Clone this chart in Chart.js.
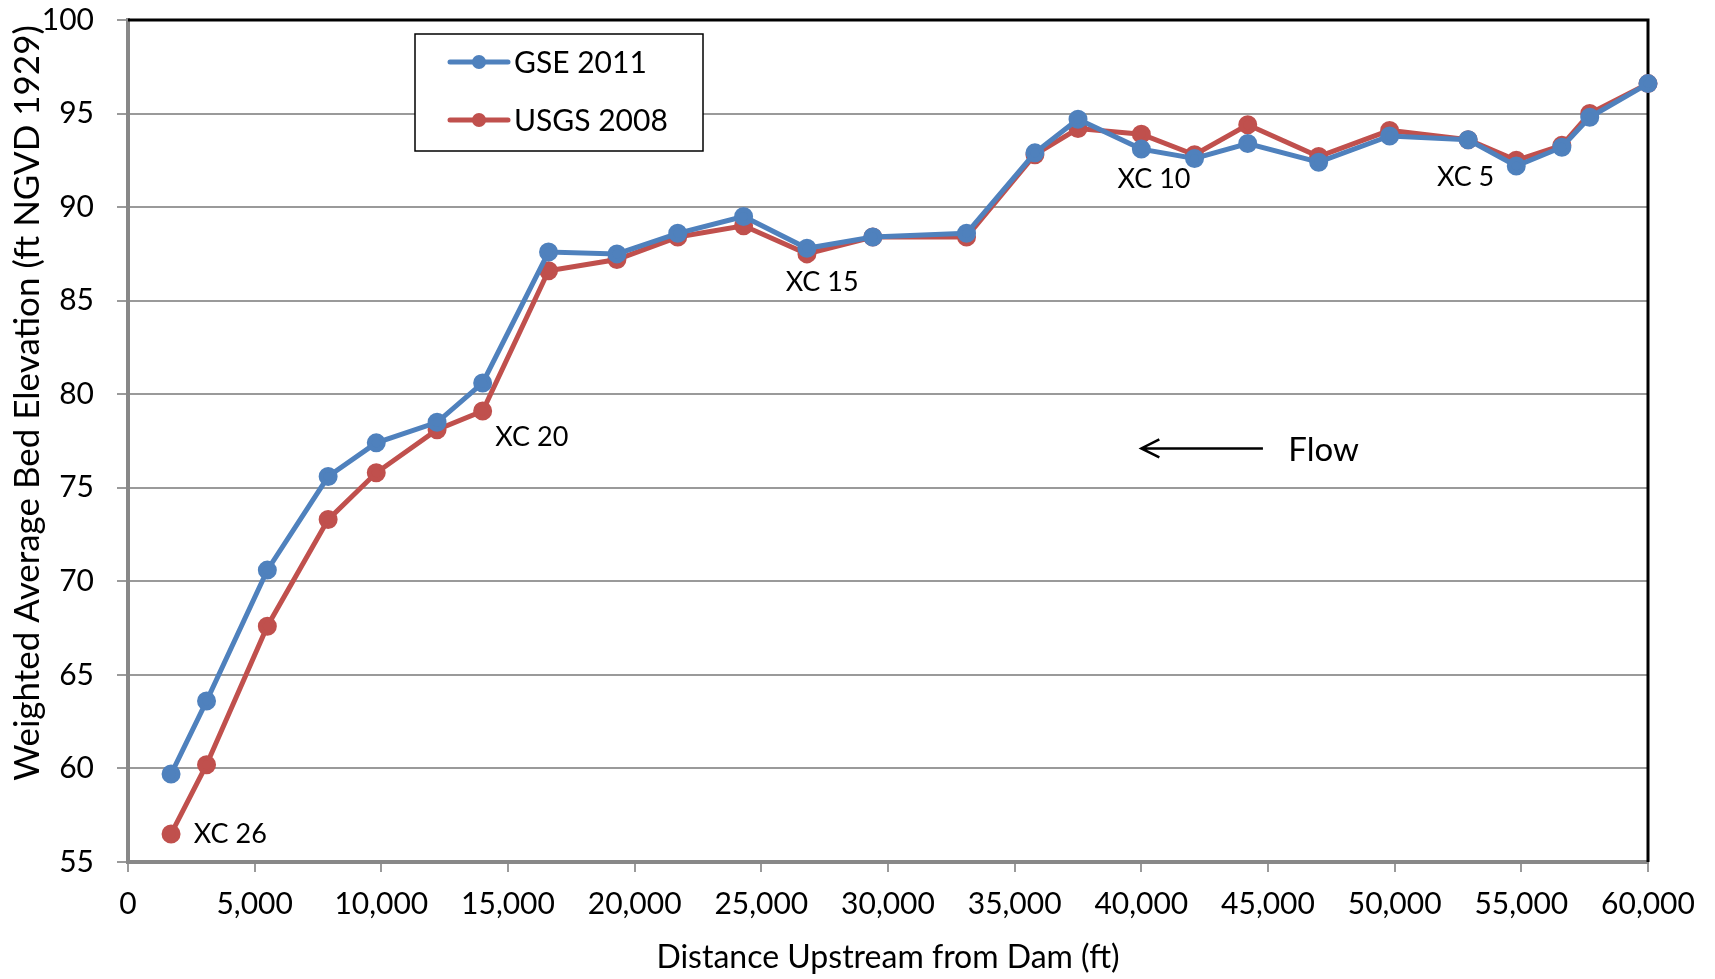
<!DOCTYPE html>
<html>
<head>
<meta charset="utf-8">
<script src="https://cdn.jsdelivr.net/npm/chart.js@4"></script>
<style>
  html, body { margin: 0; padding: 0; background: #fff; }
  #wrap { width: 1715px; height: 979px; }
</style>
</head>
<body>
<div id="wrap"><canvas id="c"></canvas></div>
<script>
// distance upstream from dam (ft), shared by both surveys
const distances = [1700, 3100, 5500, 7900, 9800, 12200, 14000, 16600, 19300, 21700, 24300, 26800, 29400, 33100,
  35800, 37500, 40000, 42100, 44200, 47000, 49800, 52900, 54800, 56600, 57700, 60000]
const gse2011 = [59.7, 63.6, 70.6, 75.6, 77.4, 78.5, 80.6, 87.6, 87.5, 88.6, 89.5, 87.8, 88.4, 88.6,
  92.9, 94.7, 93.1, 92.6, 93.4, 92.4, 93.8, 93.6, 92.2, 93.2, 94.8, 96.6]
const usgs2008 = [56.5, 60.2, 67.6, 73.3, 75.8, 78.1, 79.1, 86.6, 87.2, 88.4, 89.0, 87.5, 88.4, 88.4,
  92.8, 94.2, 93.9, 92.8, 94.4, 92.7, 94.1, 93.6, 92.5, 93.3, 95.0, 96.6]

// cross-section labels: [text, x, y, align]
const xcLabels = [
  ['XC 26', 2600, 56.5, 'left'],
  ['XC 20', 14500, 77.7, 'left'],
  ['XC 15', 27400, 86.0, 'center'],
  ['XC 10', 40500, 91.5, 'center'],
  ['XC 5', 52800, 91.6, 'center']
]
const flowArrow = { from: 44800, to: 40000, y: 77.1, textX: 45800 }

const blue = '#4F81BD'
const red = '#C0504D'
const gridGray = '#9a9a9a'
const fontFamily = 'Lato, "Open Sans", sans-serif'

const extras = {
  id: 'extras',
  beforeDatasetsDraw(chart) {
    // black frame on top and right, under the series
    const ctx = chart.ctx
    const a = chart.chartArea
    ctx.save()
    ctx.strokeStyle = '#000'
    ctx.lineWidth = 3
    ctx.beginPath()
    ctx.moveTo(a.left, a.top)
    ctx.lineTo(a.right, a.top)
    ctx.lineTo(a.right, a.bottom)
    ctx.stroke()
    ctx.restore()
  },
  afterDraw(chart) {
    const ctx = chart.ctx
    const xs = chart.scales.x
    const ys = chart.scales.y
    ctx.save()

    // cross-section labels
    ctx.fillStyle = '#000'
    ctx.font = '27px ' + fontFamily
    ctx.textBaseline = 'middle'
    xcLabels.forEach(([t, x, y, al]) => {
      ctx.textAlign = al
      ctx.fillText(t, xs.getPixelForValue(x), ys.getPixelForValue(y))
    })

    // flow arrow
    const ay = ys.getPixelForValue(flowArrow.y)
    const ax1 = xs.getPixelForValue(flowArrow.from)
    const ax2 = xs.getPixelForValue(flowArrow.to)
    ctx.strokeStyle = '#000'
    ctx.lineWidth = 2.5
    ctx.beginPath()
    ctx.moveTo(ax1, ay)
    ctx.lineTo(ax2, ay)
    ctx.moveTo(ax2 + 18, ay - 9)
    ctx.lineTo(ax2, ay)
    ctx.lineTo(ax2 + 18, ay + 9)
    ctx.stroke()
    ctx.font = '33px ' + fontFamily
    ctx.textAlign = 'left'
    ctx.fillText('Flow', xs.getPixelForValue(flowArrow.textX), ay + 2)

    // legend box
    ctx.fillStyle = '#fff'
    ctx.fillRect(415, 34, 288, 117)
    ctx.strokeStyle = '#000'
    ctx.lineWidth = 1.5
    ctx.strokeRect(415, 34, 288, 117)
    const items = [['GSE 2011', blue, 62], ['USGS 2008', red, 120]]
    ctx.font = '30px ' + fontFamily
    items.forEach(([t, col, y]) => {
      ctx.strokeStyle = col
      ctx.lineWidth = 5
      ctx.lineCap = 'round'
      ctx.beginPath()
      ctx.moveTo(450, y)
      ctx.lineTo(508, y)
      ctx.stroke()
      ctx.fillStyle = col
      ctx.beginPath()
      ctx.arc(479, y, 7, 0, Math.PI * 2)
      ctx.fill()
      ctx.fillStyle = '#000'
      ctx.fillText(t, 514, y + 1)
    })

    // axis titles
    ctx.fillStyle = '#000'
    ctx.textAlign = 'center'
    ctx.font = '32px ' + fontFamily
    ctx.fillText('Distance Upstream from Dam (ft)', 888, 958)
    ctx.font = '35px ' + fontFamily
    ctx.translate(28, 403)
    ctx.rotate(-Math.PI / 2)
    ctx.fillText('Weighted Average Bed Elevation (ft NGVD 1929)', 0, 0)
    ctx.restore()
  }
}

const toPoints = (vals) => distances.map((d, i) => ({ x: d, y: vals[i] }))

new Chart(document.getElementById('c'), {
  type: 'line',
  data: {
    datasets: [
      { label: 'GSE 2011', data: toPoints(gse2011), borderColor: blue, backgroundColor: blue,
        borderWidth: 5, pointRadius: 7, pointHoverRadius: 7, tension: 0, clip: false },
      { label: 'USGS 2008', data: toPoints(usgs2008), borderColor: red, backgroundColor: red,
        borderWidth: 5, pointRadius: 7, pointHoverRadius: 7, tension: 0, clip: false }
    ]
  },
  options: {
    responsive: true,
    maintainAspectRatio: false,
    animation: false,
    layout: { padding: { top: 20, right: 67, left: 0, bottom: 0 } },
    plugins: { legend: { display: false }, tooltip: { enabled: false } },
    scales: {
      x: {
        type: 'linear',
        min: 0, max: 60000,
        afterFit: (s) => { s.height = 117; s.paddingLeft = 0; s.paddingRight = 0 },
        grid: { drawOnChartArea: false, drawTicks: true, tickLength: 10, color: gridGray, lineWidth: 2 },
        border: { color: '#888', width: 4 },
        ticks: {
          stepSize: 5000, autoSkip: false, maxRotation: 0, padding: 14,
          color: '#000', font: { family: fontFamily, size: 30 },
          callback: (v) => v.toLocaleString('en-US')
        }
      },
      y: {
        min: 55, max: 100,
        afterFit: (s) => { s.width = 128; s.paddingTop = 0; s.paddingBottom = 0 },
        grid: { color: gridGray, lineWidth: 2, tickLength: 11 },
        border: { color: '#888', width: 4 },
        ticks: { stepSize: 5, padding: 23, color: '#000', font: { family: fontFamily, size: 30 } }
      }
    }
  },
  plugins: [extras]
})
</script>
</body>
</html>
